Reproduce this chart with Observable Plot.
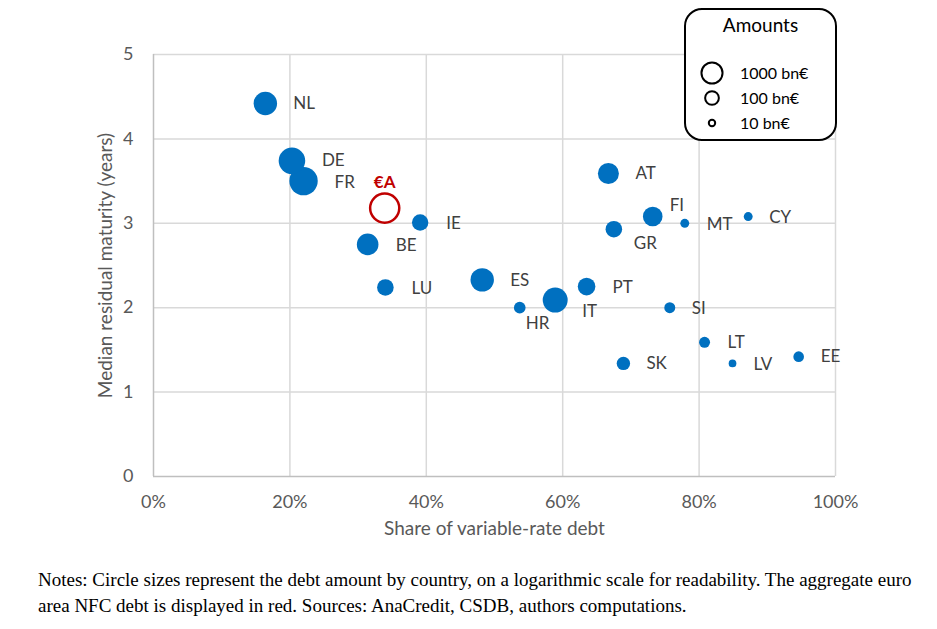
<!DOCTYPE html>
<html>
<head>
<meta charset="utf-8">
<script src="https://cdn.jsdelivr.net/npm/d3@7"></script>
<script src="https://cdn.jsdelivr.net/npm/@observablehq/plot@0.6"></script>
<style>
  body { margin: 0; background: white; }
  #wrap { position: relative; width: 937px; height: 629px; overflow: hidden; }
  #legend { position: absolute; left: 684px; top: 8px; width: 149px; height: 129px;
            border: 2px solid #000; border-radius: 18px; background: white;
            font-family: Lato, "Open Sans", sans-serif; font-size: 16px; color: #000; }
  #notes { position: absolute; left: 38px; top: 567px; font-family: "Liberation Serif", serif;
           font-size: 19px; line-height: 26px; color: #000; white-space: nowrap; }
</style>
</head>
<body>
<div id="wrap"></div>
<script>
// ---- data ----
const countries = ["NL","DE","FR","IE","BE","LU","ES","AT","FI","MT","CY","GR","PT","IT","HR","SI","LT","SK","LV","EE"];
const variableShare = [16.4,20.3,22.0,39.1,31.4,34.0,48.2,66.7,73.2,77.9,87.2,67.5,63.5,58.9,53.7,75.7,80.8,68.9,84.9,94.6]; // %
const medianMaturity = [4.42,3.74,3.50,3.01,2.75,2.24,2.33,3.59,3.08,3.00,3.08,2.93,2.25,2.09,2.00,2.00,1.59,1.34,1.34,1.42]; // years
const debtAmount = [2100,5600,10000,230,1180,245,2100,980,630,22,22,245,340,3400,52,42,42,90,15,38]; // bn€
const euroArea = {label: "€A", share: 33.9, maturity: 3.18, amount: 12600};
const legendAmounts = [1000, 100, 10];
const xTicks = [0,20,40,60,80,100];
const yTicks = [0,1,2,3,4,5];

const data = countries.map((c, i) => ({country: c, share: variableShare[i], maturity: medianMaturity[i], amount: debtAmount[i]}));

// label nudges (pixels) — layout only
const nudge = {
  NL:[28,0], DE:[30,0], FR:[31,1], IE:[26,1], BE:[28,1], LU:[26,1], ES:[28,1], AT:[27,0],
  FI:[17,-11], MT:[22,1], CY:[21,1], GR:[20,14], PT:[26,1], IT:[27,11], HR:[6,16],
  SI:[22,1], LT:[23,0], SK:[23,0], LV:[21,1], EE:[22,0]
};

const blue = "#0070C0", red = "#C00000", grey = "#595959";
const font = "Lato, 'Open Sans', sans-serif";

const plot = Plot.plot({
  width: 937, height: 550,
  marginLeft: 153, marginRight: 102, marginTop: 54, marginBottom: 74,
  style: {fontFamily: font, fontSize: "16px", color: grey, background: "white", overflow: "visible"},
  x: {domain: [0, 100]},
  y: {domain: [0, 5]},
  r: {type: "linear", domain: [1, 4], range: [3.2, 14.2]},
  marks: [
    Plot.gridX(xTicks.filter(d => d > 0), {stroke: "#d9d9d9", strokeOpacity: 1, strokeWidth: 1.5}),
    Plot.gridY(yTicks.filter(d => d > 0), {stroke: "#d9d9d9", strokeOpacity: 1, strokeWidth: 1.5}),
    Plot.ruleY([0], {stroke: "#bfbfbf", strokeWidth: 1.5}),
    Plot.ruleX([0], {stroke: "#bfbfbf", strokeWidth: 1.5}),
    Plot.axisX(xTicks, {tickSize: 0, tickPadding: 19, tickFormat: d => d + "%", label: null, fill: grey, fontSize: 18}),
    Plot.axisY(yTicks, {tickSize: 0, tickPadding: 20, tickFormat: d => String(d), label: null, fill: grey, fontSize: 18}),
    Plot.text(["Share of variable-rate debt"], {frameAnchor: "bottom", dy: 58, fill: grey, fontSize: 19}),
    Plot.text(["Median residual maturity (years)"], {frameAnchor: "left", textAnchor: "middle", dx: -48, rotate: -90, fill: grey, fontSize: 19}),
    Plot.dot(data, {x: "share", y: "maturity", r: d => Math.log10(d.amount), fill: blue}),
    Plot.dot([euroArea], {x: "share", y: "maturity", r: d => Math.log10(d.amount), fill: "none", stroke: red, strokeWidth: 2.5}),
    Plot.text([euroArea], {x: "share", y: "maturity", text: "label", dy: -26, fill: red, fontWeight: "bold", fontSize: 17}),
    ...data.map(d => Plot.text([d], {x: "share", y: "maturity", text: "country", textAnchor: "start",
      dx: nudge[d.country][0], dy: nudge[d.country][1], fill: "#404040", fontSize: 17}))
  ]
});

const wrap = document.getElementById("wrap");
wrap.appendChild(plot);

// legend, sized through the plot's own r scale
const rScale = plot.scale("r");
const legend = document.createElement("div");
legend.id = "legend";
const ys = [63, 88, 113];
let html = `<div style="position:absolute;left:0;width:100%;top:3px;text-align:center;font-size:19px;">Amounts</div>`;
html += `<svg width="149" height="129" style="position:absolute;left:0;top:0">`;
legendAmounts.forEach((a, i) => {
  const r = rScale.apply(Math.log10(a));
  html += `<circle cx="26" cy="${ys[i]}" r="${r}" fill="none" stroke="#000" stroke-width="2"></circle>`;
  html += `<text x="54" y="${ys[i]}" dy="0.35em" font-family="${font}" font-size="16" fill="#000">${a} bn€</text>`;
});
html += `</svg>`;
legend.innerHTML = html;
wrap.appendChild(legend);

const notes = document.createElement("div");
notes.id = "notes";
notes.innerHTML = "Notes: Circle sizes represent the debt amount by country, on a logarithmic scale for readability. The aggregate euro<br>area NFC debt is displayed in red. Sources: AnaCredit, CSDB, authors computations.";
wrap.appendChild(notes);
</script>
</body>
</html>
